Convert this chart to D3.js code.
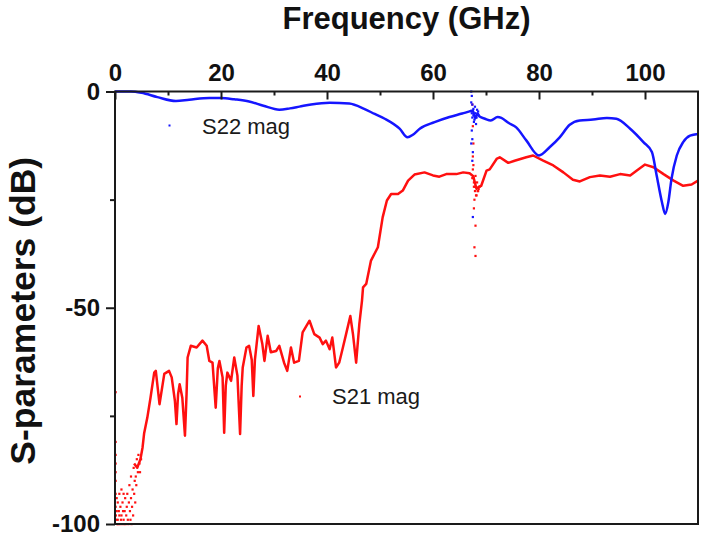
<!DOCTYPE html>
<html>
<head>
<meta charset="utf-8">
<script src="https://cdn.jsdelivr.net/npm/d3@7/dist/d3.min.js"></script>
<style>
  html, body { margin: 0; padding: 0; background: #fff; }
  svg { display: block; }
  text { font-family: "Liberation Sans", Arial, sans-serif; }
</style>
</head>
<body>
<svg id="chart" width="701" height="537"></svg>
<script>
// ---- Data ----
const s22Freq = [0,3,5,8,11.5,14,17.8,20,22.5,25.3,28,31,33,34.8,37,40.5,44.2,47,49,50.9,53.7,55.2,56.2,57.5,60.3,63.1,65.5,66.9,67.5,68.0,68.4,68.8,69.8,70.9,72.2,72.9,74.3,75.7,77.6,80.0,82,83.9,85.8,87.7,90.2,92.8,94.6,97.2,99.7,101.3,102.2,103.2,103.8,104.4,105.0,106,107.2,108.5,110];
const s22Mag  = [0,0,-0.3,-1.3,-2.2,-1.9,-1.5,-1.5,-1.8,-2.3,-3.3,-4.2,-3.9,-3.5,-3.0,-2.6,-2.8,-4.0,-5.2,-6.3,-8.6,-10.6,-10.0,-8.6,-7.1,-5.9,-5.1,-4.6,-4.4,-6.2,-5.0,-5.8,-6.3,-6.7,-5.9,-6.1,-7.3,-8.3,-11.3,-14.8,-12.9,-10.6,-7.7,-6.7,-6.5,-6.1,-6.3,-8.6,-11.7,-14.0,-19.4,-25.6,-28.3,-25.6,-20.2,-14.8,-11.7,-10.2,-9.8];

const s21Freq = [3.6,4.2,4.8,5.2,5.5,6.1,6.7,7.4,7.7,8.4,9.3,10.2,10.7,11.3,11.6,11.9,12.2,12.7,13.2,13.5,13.7,14.3,15.4,16.5,17.3,17.8,18.4,19.0,19.4,19.7,20.3,20.6,20.9,21.2,21.9,22.5,23.1,23.6,23.9,24.1,24.8,25.3,25.8,26.1,26.4,27.1,27.8,28.2,28.8,29.4,30.4,31,31.9,32.5,33.2,33.8,34.7,35.4,36.7,37.6,38.6,39.2,39.8,40.5,41,41.7,42.3,43,43.6,44.4,44.9,45.5,46.1,46.6,46.8,47.4,48.3,49.6,50.5,51.3,52.1,53.4,54.3,55.3,56.5,58.4,60,61.2,62.5,64.4,65.7,66.9,67.6,68.2,68.7,69.1,70.1,70.7,72,72.6,74.2,75.4,77.6,78.9,80.8,82.7,84.6,86.4,87.7,89.6,91.5,93.4,95.3,97.2,98.4,100,101.6,103.5,105.4,107.2,108.8,110];
const s21Mag  = [-86,-87,-85,-82.3,-79,-75.4,-70.8,-65,-64.6,-72.3,-65.3,-64.6,-66.1,-71.5,-76.9,-70,-67.7,-70.8,-79.6,-70,-61.5,-58.8,-59.2,-57.6,-58.8,-62.3,-62.7,-73.1,-64,-62.3,-66.1,-78.9,-68,-65,-66.9,-61.5,-65.7,-79.2,-68,-63.8,-59.2,-58.8,-62,-70.4,-62,-54.2,-58.4,-62.3,-56.5,-60.3,-60,-58.8,-62.7,-64.6,-59.2,-62.7,-62.3,-55.7,-53,-56.1,-56.9,-58.4,-57.6,-59.6,-56.9,-63.8,-62.7,-59.2,-56.1,-51.9,-56.1,-62.7,-53.8,-48.4,-45.3,-44.5,-39.1,-36,-29.1,-25.2,-23.7,-23.7,-22.9,-20.6,-19.2,-18.7,-19.4,-19.7,-19.1,-19.1,-18.7,-18.9,-19.6,-22.5,-22.0,-21.8,-18.3,-18.0,-15.6,-15.2,-16.5,-16,-15.2,-14.8,-16,-17.1,-18.7,-20.4,-20.8,-19.8,-19.4,-19.7,-19.1,-19.4,-18.3,-16.9,-17.5,-19.1,-20.6,-21.8,-21.5,-20.6];

// scattered measurement points (noise floor below 5 GHz and the 67-68 GHz glitch)
const s21NoiseFreq = [0.1,0.1,0.1,0.1,0.1,0.1,0.1,0.1,0.15,0.2,0.3,0.3,0.4,0.5,0.5,0.6,0.7,0.8,0.8,0.9,1.0,1.1,1.2,1.2,1.3,1.4,1.5,1.6,1.6,1.7,1.8,1.9,2.0,2.1,2.2,2.3,2.4,2.5,2.6,2.7,2.8,2.9,3.0,3.0,3.1,3.2,3.3,3.4,3.5,3.6,3.7,3.8,3.9,4.0,4.1,4.3,4.4,4.6,4.7,4.9,
  67.4,67.5,67.6,67.5,67.7,67.8,67.7,68.0,67.8,68.0,67.4,67.6,67.9,68.1,68.3,68.5,67.6,67.9,68.2,68.4,67.5,67.7,68.0,68.6,68.8];
const s21NoiseMag  = [-69.5,-81,-84,-86,-88,-90,-93,-96,-98,-99,-94,-97,-100,-95,-99,-100,-97,-98,-93,-100,-96,-99,-92,-98,-100,-95,-97,-99,-93,-100,-97,-94,-100,-98,-96,-93,-99,-100,-95,-91,-97,-99,-89,-94,-100,-96,-92,-98,-87,-93,-90,-95,-89,-91,-85,-88,-84,-86,-88,-85,
  -3,-8,-12,-15,-22,-25,-27,-31,-36,-38,-20,-17,-23,-24,-21,-23,-20,-22,-24,-23,-18,-21,-19.5,-22.5,-22];
const s22NoiseFreq = [67.2,67.3,67.2,67.4,67.3,67.4,67.5,67.4,67.6,67.7,67.9,68.1,68.3,67.5,67.3,67.6,67.8,68.0,68.2,68.5,67.2,67.4];
const s22NoiseMag  = [0,-1,-2.5,-6,-9,-11,-14,-16,-4,-7,-3.5,-7.5,-4.2,-29,-5,-5.5,-6.5,-5,-6,-4.6,-12,-3];

const xTicks = [0,20,40,60,80,100];
const xMinor = [10,30,50,70,90];
const yTicks = [0,-50,-100];
const yMinor = [-25,-75];

const titleText = "Frequency (GHz)";
const yLabelText = "S-parameters (dB)";
const s22Label = "S22 mag";
const s21Label = "S21 mag";

// ---- Layout ----
const W = 701, H = 537;
const m = {left: 115, top: 91.5, right: 3, bottom: 13};
const pw = W - m.left - m.right, ph = H - m.top - m.bottom;

const svg = d3.select("#chart");
svg.append("rect").attr("width", W).attr("height", H).attr("fill", "#fff");
const g = svg.append("g").attr("transform", `translate(${m.left},${m.top})`);

const x = d3.scaleLinear().domain([0, 110]).range([0, pw]);
const y = d3.scaleLinear().domain([-100, 0]).range([ph, 0]);

const BLUE = "#1515ff", RED = "#ff1010";
const fmt = d => String(d);

const line = d3.line().x(d => x(d[0])).y(d => y(d[1]));

// curves
g.append("path").datum(s21Freq.map((f,i)=>[f, s21Mag[i]]))
  .attr("d", line).attr("fill","none").attr("stroke",RED).attr("stroke-width",2.5).attr("stroke-linejoin","round");
g.append("path").datum(s22Freq.map((f,i)=>[f, s22Mag[i]]))
  .attr("d", line.curve(d3.curveMonotoneX)).attr("fill","none").attr("stroke",BLUE).attr("stroke-width",2.5).attr("stroke-linejoin","round");

g.selectAll("rect.n21").data(s21NoiseFreq.map((f,i)=>[f, s21NoiseMag[i]])).enter()
  .append("rect").attr("class","n21")
  .attr("x", d => x(d[0]) - 1).attr("y", d => y(d[1]) - 1)
  .attr("width", 2.2).attr("height", 2.2).attr("fill", RED);
g.selectAll("rect.n22").data(s22NoiseFreq.map((f,i)=>[f, s22NoiseMag[i]])).enter()
  .append("rect").attr("class","n22")
  .attr("x", d => x(d[0]) - 1).attr("y", d => y(d[1]) - 1)
  .attr("width", 2.2).attr("height", 2.2).attr("fill", BLUE);

// frame
g.append("rect").attr("x",0).attr("y",0).attr("width",pw).attr("height",ph)
  .attr("fill","none").attr("stroke","#1a1a1a").attr("stroke-width",2);

// top axis
const xAxis = g.append("g").call(d3.axisTop(x).tickValues(xTicks).tickSize(-8).tickPadding(11).tickFormat(fmt));
xAxis.select(".domain").remove();
xAxis.selectAll("line").attr("stroke","#1a1a1a").attr("stroke-width",2);
xAxis.selectAll("text").attr("font-size",24).attr("font-weight","bold").attr("fill","#111")
  .style("font-family","'Liberation Sans', Arial, sans-serif");
const xAxisMinor = g.append("g").call(d3.axisTop(x).tickValues(xMinor).tickSize(-4).tickFormat(""));
xAxisMinor.select(".domain").remove();
xAxisMinor.selectAll("line").attr("stroke","#1a1a1a").attr("stroke-width",2);

// left axis
const yAxis = g.append("g").call(d3.axisLeft(y).tickValues(yTicks).tickSize(9).tickPadding(6).tickFormat(fmt));
yAxis.select(".domain").remove();
yAxis.selectAll("line").attr("stroke","#1a1a1a").attr("stroke-width",2);
yAxis.selectAll("text").attr("font-size",24).attr("font-weight","bold").attr("fill","#111")
  .style("font-family","'Liberation Sans', Arial, sans-serif");
const yAxisMinor = g.append("g").call(d3.axisLeft(y).tickValues(yMinor).tickSize(5).tickFormat(""));
yAxisMinor.select(".domain").remove();
yAxisMinor.selectAll("line").attr("stroke","#1a1a1a").attr("stroke-width",2);

// titles
svg.append("text").attr("x", m.left + pw/2).attr("y", 29).attr("text-anchor","middle")
  .attr("font-size",31).attr("font-weight","bold").attr("fill","#111").text(titleText);
svg.append("text").attr("transform", `translate(35,${m.top + ph/2 + 3}) rotate(-90)`).attr("text-anchor","middle")
  .attr("font-size",35.5).attr("font-weight","bold").attr("fill","#111").text(yLabelText);

// in-plot labels with marker dots
svg.append("rect").attr("x",168.5).attr("y",124.5).attr("width",2).attr("height",2).attr("fill",BLUE);
svg.append("text").attr("x",202).attr("y",133.5).attr("font-size",22).attr("fill","#1a1a1a").text(s22Label);
svg.append("rect").attr("x",299).attr("y",395.5).attr("width",2).attr("height",2).attr("fill",RED);
svg.append("text").attr("x",332).attr("y",404).attr("font-size",22).attr("fill","#1a1a1a").text(s21Label);
</script>
</body>
</html>
